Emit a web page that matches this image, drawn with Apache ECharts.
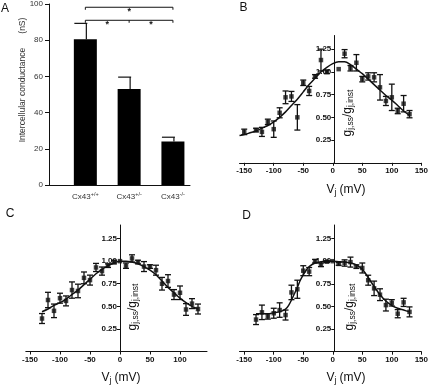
<!DOCTYPE html>
<html>
<head>
<meta charset="utf-8">
<script src="https://cdn.jsdelivr.net/npm/echarts@6/dist/echarts.min.js"></script>
<style>
  html, body { margin: 0; padding: 0; background: #fff; }
  #chart { width: 431px; height: 387px; }
</style>
</head>
<body>
<div id="chart"></div>
<script>
// panel A: conductance per genotype
var aGeno = ['+/+', '+/-', '-/-']
var aMeans = [80.5, 53, 24]
var aErr = [8.8, 6.6, 2.4]
var aTicks = [0, 20, 40, 60, 80, 100]
// significance brackets [from, to, y] and star positions [x, y]
var aBrackets = [[1, 3, 98.2], [1, 3, 91]]
var aMidTicks = [[2, 91]]
var aStars = [[2, 95.6], [1.5, 88.6], [2.5, 88.6]]

// panel B
var bV = [-150, -130, -120, -110, -100, -90, -80, -70, -60, -50, -40, -30, -20, -10, 10, 20, 30, 40, 50, 60, 70, 80, 90, 100, 110, 120, 130]
var bG = [0.34, 0.36, 0.34, 0.45, 0.37, 0.55, 0.72, 0.73, 0.50, 0.88, 0.79, 0.95, 1.13, 1.00, 1.03, 1.20, 1.04, 1.10, 0.92, 0.95, 0.94, 0.83, 0.68, 0.72, 0.57, 0.65, 0.535]
var bErr = [0.03, 0.02, 0.05, 0.03, 0.09, 0.055, 0.07, 0.055, 0.14, 0.03, 0.05, 0.02, 0.12, 0.02, 0, 0.045, 0.03, 0.09, 0.03, 0.04, 0.05, 0.14, 0.05, 0.145, 0.03, 0.09, 0.04]
var bFitV = [-158, -150, -140, -130, -120, -110, -100, -90, -80, -70, -60, -50, -40, -30, -20, -10, 0, 10, 20, 30, 40, 50, 60, 70, 80, 90, 100, 110, 120, 130]
var bFitG = [0.30, 0.31, 0.33, 0.35, 0.38, 0.41, 0.45, 0.50, 0.56, 0.63, 0.70, 0.78, 0.86, 0.93, 1.00, 1.05, 1.09, 1.11, 1.11, 1.08, 1.03, 0.98, 0.92, 0.86, 0.80, 0.74, 0.69, 0.63, 0.57, 0.52]

// panel C
var cV = [-130, -120, -110, -100, -90, -80, -70, -60, -50, -40, -30, -20, -10, 0, 10, 20, 30, 40, 50, 60, 70, 80, 90, 100, 110, 120, 130]
var cG = [0.365, 0.57, 0.45, 0.59, 0.56, 0.68, 0.67, 0.815, 0.79, 0.93, 0.89, 0.95, 0.99, 1.00, 0.95, 1.03, 0.99, 0.94, 0.94, 0.90, 0.75, 0.78, 0.63, 0.65, 0.465, 0.53, 0.47]
var cErr = [0.055, 0.085, 0.075, 0.055, 0.055, 0.09, 0.075, 0.065, 0.055, 0.045, 0.045, 0.02, 0.02, 0, 0.03, 0.04, 0.02, 0.055, 0.02, 0.055, 0.07, 0.07, 0.055, 0.075, 0.065, 0.055, 0.055]
var cFitV = [-130, -120, -110, -100, -90, -80, -70, -60, -50, -40, -30, -20, -10, 0, 10, 20, 30, 40, 50, 60, 70, 80, 90, 100, 110, 120, 130]
var cFitG = [0.44, 0.47, 0.51, 0.54, 0.58, 0.63, 0.68, 0.74, 0.80, 0.86, 0.91, 0.95, 0.98, 1.00, 1.00, 0.99, 0.97, 0.94, 0.90, 0.85, 0.78, 0.71, 0.65, 0.59, 0.54, 0.50, 0.47]

// panel D
var dV = [-130, -120, -110, -100, -90, -80, -70, -60, -50, -40, -30, -20, -10, 0, 10, 20, 30, 40, 50, 60, 70, 80, 90, 100, 110, 120, 130]
var dG = [0.355, 0.435, 0.39, 0.425, 0.46, 0.405, 0.655, 0.69, 0.895, 0.885, 1.0, 0.96, 0.995, 1.0, 0.97, 0.98, 0.99, 0.94, 0.925, 0.79, 0.70, 0.63, 0.515, 0.54, 0.42, 0.545, 0.44]
var dErr = [0.055, 0.08, 0.03, 0.055, 0.08, 0.055, 0.08, 0.1, 0.055, 0.045, 0.02, 0.02, 0.01, 0, 0.015, 0.035, 0.055, 0.02, 0.055, 0.055, 0.08, 0.065, 0.065, 0.035, 0.045, 0.045, 0.055]
var dFitV = [-130, -120, -110, -100, -90, -80, -75, -70, -65, -60, -55, -50, -45, -40, -30, -20, -10, 0, 10, 20, 30, 40, 50, 60, 70, 80, 90, 100, 110, 120, 130]
var dFitG = [0.42, 0.42, 0.42, 0.43, 0.44, 0.47, 0.51, 0.57, 0.64, 0.71, 0.79, 0.85, 0.90, 0.94, 0.98, 0.995, 1.0, 1.0, 0.995, 0.99, 0.98, 0.96, 0.91, 0.82, 0.72, 0.63, 0.56, 0.51, 0.48, 0.46, 0.44]

var gTicks = [0.25, 0.5, 0.75, 1.0, 1.25]
var vTicksBD = [-150, -100, -50, 0, 50, 100, 150]
var vTicksC = [-150, -100, -50, 0, 50, 100]

var FONT = 'Liberation Sans, Arial, sans-serif'
var INK = '#111'

function pairs(xs, ys) {
  return xs.map(function (x, i) { return [x, ys[i]] })
}

// symmetric error bars for the voltage plots
function errBar(params, api) {
  var x = api.value(0)
  var y = api.value(1)
  var e = api.value(2)
  if (!e) return null
  var hi = api.coord([x, y + e])
  var lo = api.coord([x, y - e])
  var st = { stroke: INK, lineWidth: 1.3 }
  return {
    type: 'group',
    children: [
      { type: 'line', shape: { x1: hi[0], y1: hi[1], x2: lo[0], y2: lo[1] }, style: st },
      { type: 'line', shape: { x1: hi[0] - 3, y1: hi[1], x2: hi[0] + 3, y2: hi[1] }, style: st },
      { type: 'line', shape: { x1: lo[0] - 3, y1: lo[1], x2: lo[0] + 3, y2: lo[1] }, style: st }
    ]
  }
}

// upward-only error bar on panel A bars
function barErr(params, api) {
  var x = api.value(0)
  var base = api.coord([x, api.value(1)])
  var top = api.coord([x, api.value(1) + api.value(2)])
  var st = { stroke: INK, lineWidth: 1.2 }
  return {
    type: 'group',
    children: [
      { type: 'line', shape: { x1: top[0] + 1, y1: top[1], x2: top[0] + 1, y2: base[1] }, style: st },
      { type: 'line', shape: { x1: top[0] - 11, y1: top[1], x2: top[0] + 2, y2: top[1] }, style: st }
    ]
  }
}

function bracket(params, api) {
  var p1 = api.coord([api.value(0), api.value(2)])
  var p2 = api.coord([api.value(1), api.value(2)])
  return {
    type: 'polyline',
    shape: { points: [[p1[0], p1[1] + 2.5], p1, p2, [p2[0], p2[1] + 2.5]] },
    style: { stroke: INK, lineWidth: 1, fill: null }
  }
}

function midTick(params, api) {
  var p = api.coord([api.value(0), api.value(1)])
  return {
    type: 'line',
    shape: { x1: p[0], y1: p[1], x2: p[0], y2: p[1] + 2.5 },
    style: { stroke: INK, lineWidth: 1 }
  }
}

function star(params, api) {
  var p = api.coord([api.value(0), api.value(1)])
  return {
    type: 'text',
    x: p[0], y: p[1],
    style: { text: '*', font: 'bold 9px ' + FONT, fill: INK, align: 'center', verticalAlign: 'middle' }
  }
}

function vAxis(grid, min, max, ticks) {
  return {
    type: 'value', gridIndex: grid, min: min, max: max,
    axisLine: { onZero: false, lineStyle: { color: INK, width: 1 } },
    axisTick: { customValues: ticks, length: 3, lineStyle: { color: INK } },
    axisLabel: { customValues: ticks, color: INK, fontFamily: FONT, fontWeight: 'bold', fontSize: 8, margin: 4 },
    splitLine: { show: false }
  }
}

// the g axis sits at V = 0, shifted right from the grid's left edge
function gAxis(grid, shift) {
  return {
    type: 'value', gridIndex: grid, min: 0, max: 1.4,
    position: 'left', offset: -shift,
    axisLine: { onZero: false, lineStyle: { color: INK, width: 1 } },
    axisTick: { customValues: gTicks, length: 3, lineStyle: { color: INK } },
    axisLabel: {
      customValues: gTicks, color: INK, fontFamily: FONT, fontWeight: 'bold', fontSize: 8, margin: 3,
      formatter: function (v) { return v.toFixed(2) }
    },
    splitLine: { show: false }
  }
}

function panelSeries(idx, v, g, err, fitV, fitG) {
  return [
    {
      type: 'line', xAxisIndex: idx, yAxisIndex: idx, data: pairs(fitV, fitG),
      smooth: 0.3, showSymbol: false, lineStyle: { color: INK, width: 1.5 }
    },
    {
      type: 'custom', xAxisIndex: idx, yAxisIndex: idx, renderItem: errBar,
      data: v.map(function (x, i) { return [x, g[i], err[i]] })
    },
    {
      type: 'scatter', xAxisIndex: idx, yAxisIndex: idx, data: pairs(v, g),
      symbol: 'rect', symbolSize: 4.5, itemStyle: { color: INK }
    }
  ]
}

var richG = {
  g: { fontFamily: FONT, fontSize: 12, fill: INK },
  s: { fontFamily: FONT, fontSize: 8.5, fill: INK, padding: [6, 0, 0, 0] }
}

function gName(x, y) {
  return {
    type: 'text', x: x, y: y, rotation: Math.PI / 2,
    style: {
      text: '{g|g}{s|j,ss}{g|/g}{s|j,inst}', rich: richG,
      align: 'center', verticalAlign: 'middle'
    }
  }
}

function vName(x, y) {
  return {
    type: 'text', x: x, y: y,
    style: {
      text: '{g|V}{s|j}{g| (mV)}', rich: richG,
      align: 'center', verticalAlign: 'middle'
    }
  }
}

function letter(t, x, y) {
  return {
    type: 'text', x: x, y: y,
    style: { text: t, font: '12px ' + FONT, fill: INK, align: 'center', verticalAlign: 'middle' }
  }
}

var chart = echarts.init(document.getElementById('chart'))

chart.setOption({
  animation: false,
  grid: [
    { left: 49, top: 3, width: 141, height: 182 },
    { left: 239.5, top: 35.5, width: 184.8, height: 127.3 },
    { left: 25.8, top: 225, width: 181.2, height: 126.5 },
    { left: 239.5, top: 225, width: 184.8, height: 126.7 }
  ],
  xAxis: [
    {
      type: 'value', gridIndex: 0, min: 0.17, max: 3.39,
      axisLine: { onZero: false, lineStyle: { color: INK, width: 1 } },
      axisTick: { show: false },
      axisLabel: {
        customValues: [1, 2, 3], margin: 6,
        formatter: function (v) { return '{n|Cx43}{u|' + aGeno[v - 1] + '}' },
        rich: {
          n: { fontFamily: FONT, fontSize: 8, color: '#333' },
          u: { fontFamily: FONT, fontSize: 5.5, color: '#333', padding: [0, 0, 5, 0] }
        }
      },
      splitLine: { show: false }
    },
    vAxis(1, -158, 150, vTicksBD),
    vAxis(2, -157, 145, vTicksC),
    vAxis(3, -158, 150, vTicksBD)
  ],
  yAxis: [
    {
      type: 'value', gridIndex: 0, min: 0, max: 100,
      axisLine: { onZero: false, lineStyle: { color: INK, width: 1 } },
      axisTick: { customValues: aTicks, length: 4, lineStyle: { color: INK } },
      axisLabel: { customValues: aTicks, color: '#333', fontFamily: FONT, fontSize: 8, margin: 6 },
      splitLine: { show: false }
    },
    gAxis(1, 158 * 184.8 / 308),
    gAxis(2, 157 * 181.2 / 302),
    gAxis(3, 158 * 184.8 / 308)
  ],
  series: [
    {
      type: 'bar', xAxisIndex: 0, yAxisIndex: 0, data: pairs([1, 2, 3], aMeans),
      barWidth: 23, itemStyle: { color: '#000' }
    },
    {
      type: 'custom', xAxisIndex: 0, yAxisIndex: 0, renderItem: barErr,
      data: aMeans.map(function (m, i) { return [i + 1, m, aErr[i]] })
    },
    { type: 'custom', xAxisIndex: 0, yAxisIndex: 0, renderItem: bracket, data: aBrackets },
    { type: 'custom', xAxisIndex: 0, yAxisIndex: 0, renderItem: midTick, data: aMidTicks },
    { type: 'custom', xAxisIndex: 0, yAxisIndex: 0, renderItem: star, data: aStars }
  ]
    .concat(panelSeries(1, bV, bG, bErr, bFitV, bFitG))
    .concat(panelSeries(2, cV, cG, cErr, cFitV, cFitG))
    .concat(panelSeries(3, dV, dG, dErr, dFitV, dFitG)),
  graphic: [
    letter('A', 5, 9),
    letter('B', 243.5, 7.5),
    letter('C', 10, 214),
    letter('D', 246.5, 216),
    {
      type: 'text', x: 23, y: 80, rotation: Math.PI / 2,
      style: {
        text: 'Intercellular conductance      (nS)', font: '8.5px ' + FONT, fill: '#333',
        align: 'center', verticalAlign: 'middle'
      }
    },
    gName(348, 113),
    gName(133, 307),
    gName(350, 307),
    vName(346, 190),
    vName(121, 378),
    vName(346, 378)
  ]
})
</script>
</body>
</html>
